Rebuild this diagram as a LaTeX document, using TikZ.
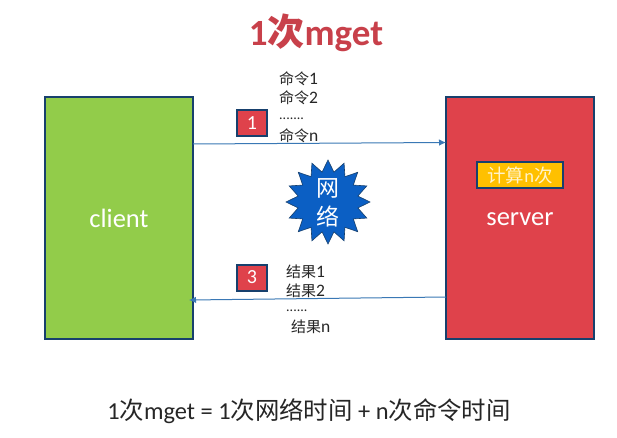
\documentclass[tikz,border=0pt]{standalone}
\usepackage{fontspec}
\setmainfont{Carlito}
\newfontfamily\cjk{Noto Sans CJK SC}
\newcommand{\zhlist}[1]{{\fontsize{15}{18}\selectfont\cjk #1}}
\usetikzlibrary{shapes.geometric,arrows.meta}
\definecolor{framec}{HTML}{17406D}
\definecolor{greenc}{HTML}{92CC4A}
\definecolor{redc}{HTML}{DF424B}
\definecolor{amberc}{HTML}{FFC000}
\definecolor{linkc}{HTML}{3A78B5}
\definecolor{starc}{HTML}{0B5FC4}
\definecolor{titlec}{HTML}{C8404A}
\tikzset{
  panel/.style={draw=framec,line width=2.2pt,minimum width=148pt,minimum height=242pt,text=white,font=\fontsize{26.5}{30}\selectfont},
  badge/.style={draw=framec,line width=2pt,fill=redc,minimum width=30pt,minimum height=26pt,inner sep=0pt,text=white,font=\fontsize{20}{23}\selectfont},
  listtext/.style={inner sep=0pt,anchor=west,text=black!85,font=\fontsize{17.5}{20}\selectfont},
  link/.style={draw=linkc,line width=1pt,-{Latex[length=7pt,width=6.5pt]}}
}
\begin{document}
\begin{tikzpicture}[x=1pt,y=-1pt]
\useasboundingbox (0,0) rectangle (617,438);
\fill[white] (0,0) rectangle (617,438);
% title and summary line
\node[inner sep=0pt,text=titlec,font=\fontsize{37}{42}\selectfont\bfseries] (title) at (316,33) {1{\cjk\bfseries 次}mget};
\node[inner sep=0pt,text=black!85,font=\fontsize{24.4}{28}\selectfont] (sum) at (309,411) {1{\cjk 次}mget = 1{\cjk 次网络时间} + n{\cjk 次命令时间}};
% endpoints
\node[panel,fill=greenc] (client) at (119,218) {client};
\node[panel,fill=redc] (server) at (520,218) {};
\node[inner sep=0pt,text=white,font=\fontsize{26.5}{30}\selectfont] (srvlabel) at (520,219) {server};
\node[draw=framec,line width=2pt,fill=amberc,minimum width=86pt,minimum height=26pt,inner sep=0pt,text=white!80!amberc,font=\fontsize{18.5}{21}\selectfont] (calc) at (520,175.5) {{\cjk 计算}n{\cjk 次}};
% network burst
\node[star,star points=16,star point ratio=1.38,minimum size=84pt,inner sep=0pt,draw=framec,line width=0.6pt,fill=starc] (net) at (328,202) {};
\node[inner sep=0pt,align=center,text=white,font=\fontsize{23}{29}\selectfont\cjk] (netlabel) at (328,203) {网\\络};
% request and response links
\coordinate (reqa) at (193,144);
\coordinate (reqb) at (446,142.5);
\coordinate (resa) at (446,297);
\coordinate (resb) at (189,300);
\draw[link] (reqa) -- (reqb);
\draw[link] (resa) -- (resb);
% step badges
\node[badge] (b1) at (252,123.5) {1};
\node[badge] (b3) at (252,277.5) {3};
% command list
\node[listtext] (c1) at (279,79) {\zhlist{命令}1};
\node[listtext] (c2) at (279,98) {\zhlist{命令}2};
\node[listtext] (c3) at (279,119) {{\fontsize{14}{15}\selectfont .......}};
\node[listtext] (c4) at (279,136) {\zhlist{命令}n};
% result list
\node[listtext] (r1) at (286,272) {\zhlist{结果}1};
\node[listtext] (r2) at (286,291) {\zhlist{结果}2};
\node[listtext] (r3) at (286,311) {{\fontsize{14}{15}\selectfont ......}};
\node[listtext] (r4) at (291,327) {\zhlist{结果}n};
\end{tikzpicture}
\end{document}
